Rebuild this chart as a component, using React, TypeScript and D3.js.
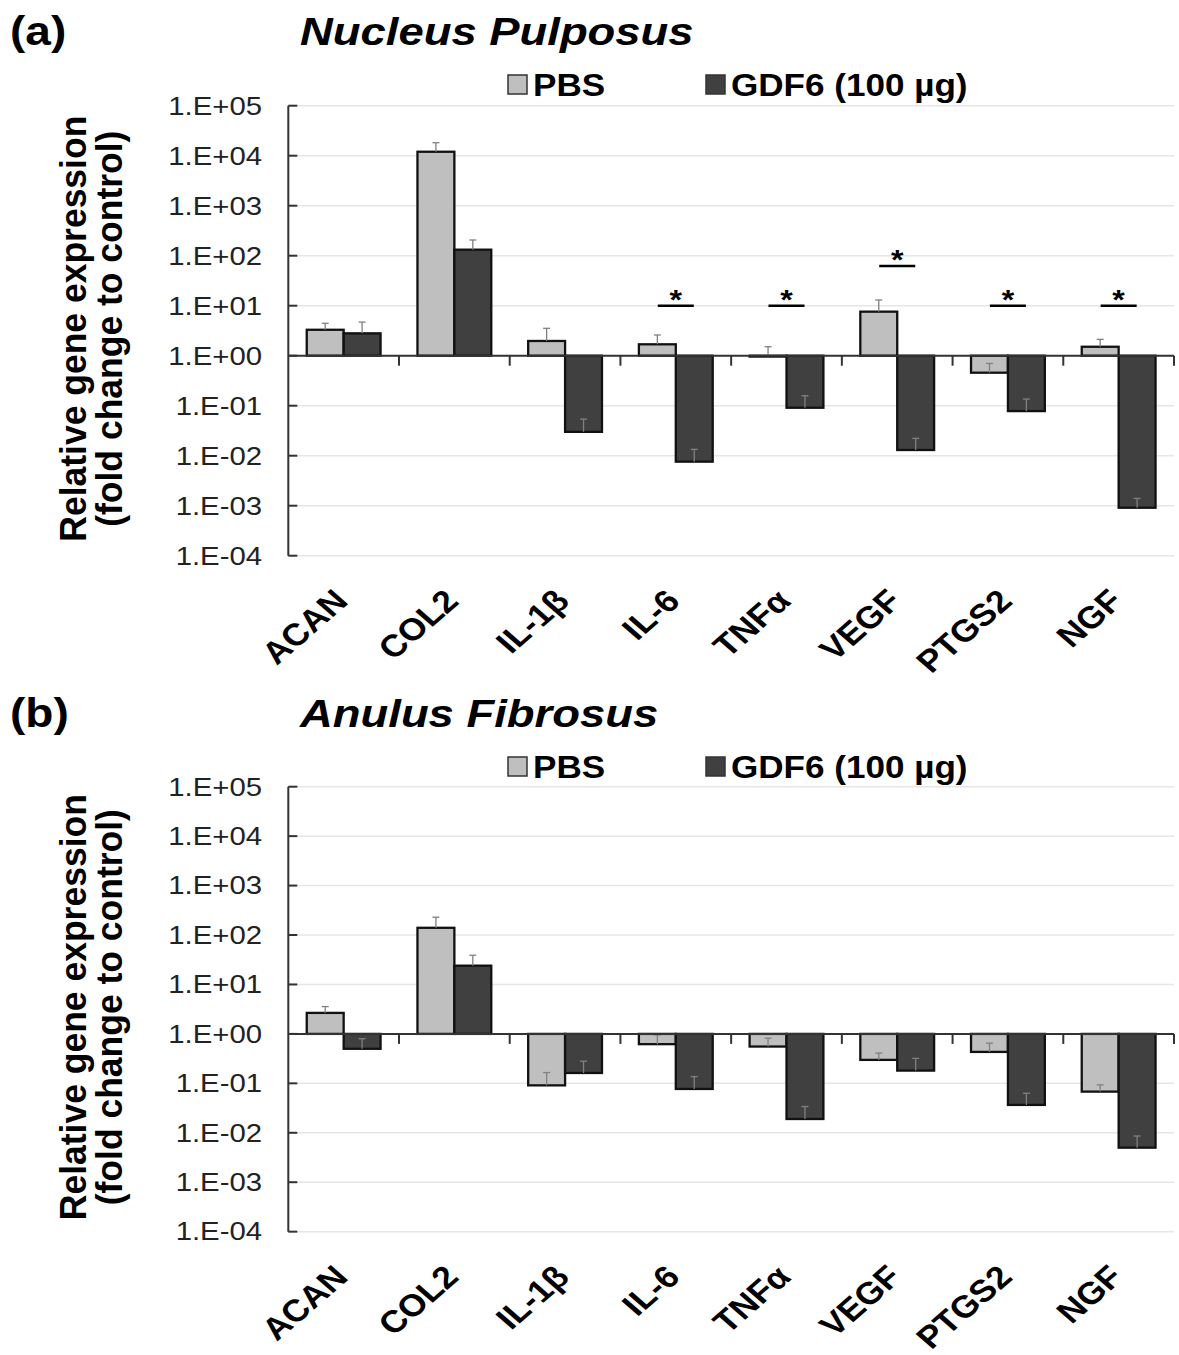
import React, { useEffect, useRef } from 'react'
import * as d3 from 'd3'

// genes on the x axis
const categories = ['ACAN', 'COL2', 'IL-1β', 'IL-6', 'TNFα', 'VEGF', 'PTGS2', 'NGF']
const seriesNames = ['PBS', 'GDF6 (100 µg)']
const yTickValues = [1e5, 1e4, 1e3, 1e2, 1e1, 1e0, 1e-1, 1e-2, 1e-3, 1e-4]

// (a) nucleus pulposus, fold change and top of error bar
const npPBS = [3.3, 12000, 1.97, 1.69, 0.96, 7.6, 0.457, 1.51]
const npPBSErr = [4.45, 18200, 3.53, 2.6, 1.51, 13, 0.7, 2.12]
const npGDF6 = [2.8, 132, 0.03, 0.0076, 0.091, 0.013, 0.078, 0.00091]
const npGDF6Err = [4.7, 206, 0.054, 0.0134, 0.158, 0.0222, 0.136, 0.0014]
const npSigCats = ['IL-6', 'TNFα', 'VEGF', 'PTGS2', 'NGF']
const npSigLevels = [10, 10, 62, 10, 10]

// (b) anulus fibrosus
const afPBS = [2.66, 140, 0.091, 0.62, 0.555, 0.298, 0.432, 0.068]
const afPBSErr = [3.57, 229, 0.165, 0.95, 0.82, 0.41, 0.65, 0.093]
const afGDF6 = [0.5, 24, 0.162, 0.077, 0.019, 0.181, 0.0366, 0.005]
const afGDF6Err = [0.8, 39, 0.28, 0.137, 0.034, 0.32, 0.063, 0.0086]

const FONT = "'Liberation Sans', Arial, Helvetica, sans-serif"
const SX = 1.15 // the figure is a bit wider than tall
const colors = ['#bfbfbf', '#404040']

function fmtTick(v) {
  const e = Math.round(Math.log10(v))
  const s = String(Math.abs(e)).padStart(2, '0')
  return '1.E' + (e < 0 ? '-' : '+') + s
}

function addText(g, x, y, str, size, extra = '', sx = SX) {
  return g
    .append('text')
    .attr('transform', `translate(${x},${y}) scale(${sx},1) ${extra}`)
    .attr('font-family', FONT)
    .attr('font-size', size)
    .text(str)
}

function drawPanel(svg, p) {
  const g = svg.append('g')
  const y = d3
    .scaleLog()
    .domain([1e-4, 1e5])
    .range([p.top + 9 * p.step, p.top])
  const x = d3.scaleBand().domain(categories).range([288.3, 1174]).padding(0)
  const xs = d3
    .scaleBand()
    .domain(seriesNames)
    .range([0, x.bandwidth()])
    .paddingInner(0)
    .paddingOuter(0.5)
  const [x0, x1] = x.range()

  // gridlines
  g.append('g')
    .selectAll('line')
    .data(yTickValues)
    .join('line')
    .attr('x1', x0)
    .attr('x2', x1)
    .attr('y1', (d) => y(d))
    .attr('y2', (d) => y(d))
    .attr('stroke', '#e6e6e6')
    .attr('stroke-width', 1.5)

  const series = [
    { vals: p.pbs, err: p.pbsErr, name: seriesNames[0], color: colors[0] },
    { vals: p.gdf, err: p.gdfErr, name: seriesNames[1], color: colors[1] },
  ]
  series.forEach((s) => {
    const rows = categories.map((c, i) => ({ c, v: s.vals[i], e: s.err[i] }))
    g.append('g')
      .selectAll('rect')
      .data(rows)
      .join('rect')
      .attr('x', (d) => x(d.c) + xs(s.name))
      .attr('width', xs.bandwidth())
      .attr('y', (d) => Math.min(y(d.v), y(1)))
      .attr('height', (d) => Math.max(Math.abs(y(d.v) - y(1)), 0.8))
      .attr('fill', s.color)
      .attr('stroke', '#111')
      .attr('stroke-width', 2.3)
    const eb = g.append('g').attr('stroke', '#808080').attr('stroke-width', 1.3)
    const cx = (d) => x(d.c) + xs(s.name) + xs.bandwidth() / 2
    eb.selectAll('line.v')
      .data(rows)
      .join('line')
      .attr('class', 'v')
      .attr('x1', cx)
      .attr('x2', cx)
      .attr('y1', (d) => y(d.v))
      .attr('y2', (d) => y(d.e))
    eb.selectAll('line.c')
      .data(rows)
      .join('line')
      .attr('class', 'c')
      .attr('x1', (d) => cx(d) - 3.5)
      .attr('x2', (d) => cx(d) + 3.5)
      .attr('y1', (d) => y(d.e))
      .attr('y2', (d) => y(d.e))
  })

  // baseline at 1 and category ticks
  g.append('line')
    .attr('x1', x0)
    .attr('x2', x1)
    .attr('y1', y(1))
    .attr('y2', y(1))
    .attr('stroke', '#333')
    .attr('stroke-width', 2)
  g.append('g')
    .selectAll('line')
    .data(categories)
    .join('line')
    .attr('x1', (d) => x(d) + x.bandwidth())
    .attr('x2', (d) => x(d) + x.bandwidth())
    .attr('y1', y(1))
    .attr('y2', y(1) + 10)
    .attr('stroke', '#333')
    .attr('stroke-width', 2)

  // y axis
  g.append('line')
    .attr('x1', x0)
    .attr('x2', x0)
    .attr('y1', y(1e5))
    .attr('y2', y(1e-4))
    .attr('stroke', '#333')
    .attr('stroke-width', 2)
  g.append('g')
    .selectAll('line')
    .data(yTickValues)
    .join('line')
    .attr('x1', x0)
    .attr('x2', x0 + 9)
    .attr('y1', (d) => y(d))
    .attr('y2', (d) => y(d))
    .attr('stroke', '#333')
    .attr('stroke-width', 2)
  yTickValues.forEach((v) => {
    addText(g, 262, y(v), fmtTick(v), 25.5)
      .attr('text-anchor', 'end')
      .attr('dominant-baseline', 'central')
      .attr('fill', '#222')
  })

  // x labels
  categories.forEach((c) => {
    addText(g, x(c) + x.bandwidth() / 2 + 6, y(1e-4) + 47, c, 31, 'rotate(-45)')
      .attr('text-anchor', 'end')
      .attr('font-weight', 'bold')
      .attr('fill', '#000')
  })

  // significance markers
  p.sigCats.forEach((c, i) => {
    const cx = x(c) + x.bandwidth() / 2
    const ly = y(p.sigLevels[i])
    g.append('line')
      .attr('x1', cx - 18)
      .attr('x2', cx + 18)
      .attr('y1', ly)
      .attr('y2', ly)
      .attr('stroke', '#000')
      .attr('stroke-width', 2.5)
    addText(g, cx, ly + 3, '*', 28)
      .attr('text-anchor', 'middle')
      .attr('font-weight', 'bold')
  })

  // y title
  const cy = (y(1e5) + y(1e-4)) / 2 - 2
  addText(g, 86, cy, 'Relative gene expression', 35.5, 'rotate(-90)', 1.04)
    .attr('text-anchor', 'middle')
    .attr('font-weight', 'bold')
  addText(g, 122, cy, '(fold change to control)', 35.5, 'rotate(-90)', 1.04)
    .attr('text-anchor', 'middle')
    .attr('font-weight', 'bold')

  // title and panel letter
  addText(g, 10, p.titleY, p.letter, 40).attr('font-weight', 'bold')
  addText(g, 300, p.titleY, p.title, 39.5)
    .attr('font-weight', 'bold')
    .attr('font-style', 'italic')

  // legend
  const lx = [508, 706]
  seriesNames.forEach((s, i) => {
    g.append('rect')
      .attr('x', lx[i])
      .attr('y', p.legendY - 10)
      .attr('width', 19)
      .attr('height', 19)
      .attr('fill', colors[i])
      .attr('stroke', '#333')
      .attr('stroke-width', 1.5)
    addText(g, lx[i] + 25, p.legendY + 10.5, s, 30.5).attr('font-weight', 'bold')
  })
}

export default function App() {
  const ref = useRef(null)

  useEffect(() => {
    const svg = d3.select(ref.current)
    svg.selectAll('*').remove()
    drawPanel(svg, {
      top: 105.7,
      step: 50,
      pbs: npPBS,
      pbsErr: npPBSErr,
      gdf: npGDF6,
      gdfErr: npGDF6Err,
      sigCats: npSigCats,
      sigLevels: npSigLevels,
      letter: '(a)',
      title: 'Nucleus Pulposus',
      titleY: 45,
      legendY: 85,
    })
    drawPanel(svg, {
      top: 786.7,
      step: 49.44,
      pbs: afPBS,
      pbsErr: afPBSErr,
      gdf: afGDF6,
      gdfErr: afGDF6Err,
      sigCats: [],
      sigLevels: [],
      letter: '(b)',
      title: 'Anulus Fibrosus',
      titleY: 727,
      legendY: 767,
    })
  }, [])

  return (
    <svg
      ref={ref}
      width={1179}
      height={1355}
      style={{ position: 'absolute', left: 0, top: 0, background: '#fff' }}
    />
  )
}
